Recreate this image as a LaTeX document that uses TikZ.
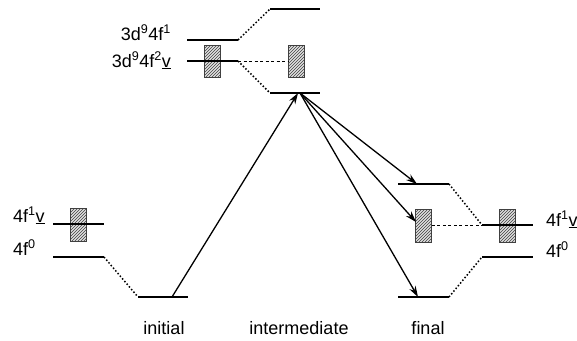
\documentclass[tikz,border=0pt]{standalone}
\usepackage{fontspec}
\setmainfont{Liberation Sans}
\usetikzlibrary{arrows.meta,patterns}
\tikzset{
  level/.style={line width=1.8pt},
  hatchbox/.style={draw=black!75, line width=0.8pt, fill=black!12,
    postaction={pattern=north east lines, pattern color=black!75},
    minimum width=16pt, minimum height=32pt, inner sep=0pt},
  dotlink/.style={line width=1.5pt, dotted},
  dashlink/.style={line width=0.9pt, dash pattern=on 3pt off 2.5pt},
  transit/.style={line width=1.3pt, -{Stealth[length=11pt,width=7pt]}},
  lbl/.style={font=\fontsize{18}{21}\selectfont, inner sep=0pt},
}
\begin{document}
\begin{tikzpicture}[x=1pt,y=-1pt]
\useasboundingbox (0,0) rectangle (577,340);

% initial state levels
\coordinate (i1a) at (53,224);  \coordinate (i1b) at (104,224);
\coordinate (i0a) at (53,257);  \coordinate (i0b) at (104,257);
\coordinate (inia) at (138,297); \coordinate (inib) at (188,297);
\coordinate (inis) at (172,297);
\draw[level] (i1a) -- (i1b);
\draw[level] (i0a) -- (i0b);
\draw[level] (inia) -- (inib);
\node[hatchbox, minimum height=33pt] (ibox) at (78.5,225) {};
\draw[level] (i1a) -- (i1b);
\draw[dotlink] (i0b) -- (inia);

% intermediate state levels
\coordinate (m1a) at (187,40);  \coordinate (m1b) at (238,40);
\coordinate (m2a) at (187,61);  \coordinate (m2b) at (238,61);
\coordinate (topa) at (270,9);  \coordinate (topb) at (320,9);
\coordinate (mida) at (270,93); \coordinate (midb) at (320,93);
\coordinate (midt) at (298,93);
\coordinate (mids) at (300,93);
\draw[level] (m1a) -- (m1b);
\node[hatchbox] (mbox) at (212,61) {};
\draw[level] (m2a) -- (m2b);
\draw[level] (topa) -- (topb);
\draw[level] (mida) -- (midb);
\node[hatchbox] (cbox) at (296,61) {};
\draw[dotlink] (m1b) -- (topa);
\draw[dotlink] (m2b) -- (mida);
\draw[dashlink] (m2b) -- (cbox.west);

% final state levels
\coordinate (f1a) at (398,184); \coordinate (f1b) at (449,184);
\coordinate (f3a) at (398,297); \coordinate (f3b) at (449,297);
\coordinate (r1a) at (482,225); \coordinate (r1b) at (533,225);
\coordinate (r0a) at (482,257); \coordinate (r0b) at (533,257);
\draw[level] (f1a) -- (f1b);
\draw[level] (f3a) -- (f3b);
\node[hatchbox, minimum height=33pt] (fbox) at (423.5,225.5) {};
\draw[level] (r1a) -- (r1b);
\node[hatchbox, minimum height=33pt] (rbox) at (507,225.5) {};
\draw[level] (r1a) -- (r1b);
\draw[level] (r0a) -- (r0b);
\draw[dotlink] (f1b) -- (r1a);
\draw[dotlink] (f3b) -- (r0a);
\draw[dashlink] (fbox.east |- r1a) -- (r1a);

% transitions
\coordinate (t1) at (417,184);
\coordinate (t2) at (416,222);
\coordinate (t3) at (418,297);
\draw[transit] (inis) -- (midt);
\draw[transit] (mids) -- (t1);
\draw[transit] (mids) -- (t2);
\draw[transit] (mids) -- (t3);

% labels
\node[lbl, anchor=base east] (l1) at (171,40) {3d\textsuperscript{9}4f\textsuperscript{1}};
\node[lbl, anchor=base east] (l2) at (171,67) {3d\textsuperscript{9}4f\textsuperscript{2}\underline{v}};
\node[lbl, anchor=base west] (l3) at (13,222) {4f\textsuperscript{1}\underline{v}};
\node[lbl, anchor=base west] (l4) at (13,255) {4f\textsuperscript{0}};
\node[lbl, anchor=base west] (l5) at (546,226) {4f\textsuperscript{1}\underline{v}};
\node[lbl, anchor=base west] (l6) at (546,257) {4f\textsuperscript{0}};
\node[lbl, anchor=base] (n1) at (164,334) {initial};
\node[lbl, anchor=base] (n2) at (299,334) {intermediate};
\node[lbl, anchor=base] (n3) at (428,334) {final};
\end{tikzpicture}
\end{document}
